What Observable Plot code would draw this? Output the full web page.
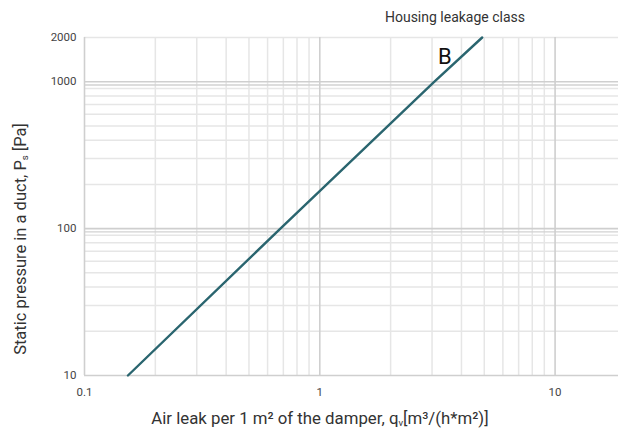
<!DOCTYPE html>
<html>
<head>
<meta charset="utf-8">
<script src="https://cdn.jsdelivr.net/npm/d3@7"></script>
<script src="https://cdn.jsdelivr.net/npm/@observablehq/plot@0.6"></script>
<style>
  html, body { margin: 0; padding: 0; background: #fff; }
  #chart svg { display: block; }
</style>
</head>
<body>
<div id="chart"></div>
<script>
// Data
const airLeak = [0.153, 0.68, 3.07, 4.9];      // q_v [m³/(h*m²)]
const pressure = [10, 100, 1000, 2000];        // P_s [Pa]
const seriesName = "B";
const seriesLabelPos = {x: 3.4, y: 1480};

const xTicks = [0.1, 1, 10];
const yTicks = [10, 100, 1000, 2000];
const xMajorGrid = [0.1, 1, 10];
const xMinorGrid = [0.2, 0.3, 0.4, 0.5, 0.6, 0.7, 0.8, 0.9, 2, 3, 4, 5, 6, 7, 8, 9];
const yMajorGrid = [10, 100, 1000];
const yDecadeCompanion = [95, 950];
const yMinorGrid = [20, 30, 40, 50, 60, 70, 80, 90, 200, 300, 400, 500, 600, 700, 800, 900, 2000];

const title = "Housing leakage class";
const xLabel = ["Air leak per 1 m² of the damper, q", "v", "[m³/(h*m²)]"];
const yLabel = ["Static pressure in a duct, P", "s", " [Pa]"];

const data = airLeak.map((q, i) => ({q, p: pressure[i]}));

const W = 618, H = 428;
const plot = Plot.plot({
  width: W,
  height: H,
  marginLeft: 84,
  marginRight: 0,
  marginTop: 37,
  marginBottom: 53,
  style: {fontFamily: "Roboto, 'DejaVu Sans', sans-serif", fontSize: "11.5px", color: "#444", background: "#fff"},
  x: {type: "log", domain: [0.1, 18.6]},
  y: {type: "log", domain: [10, 2000]},
  marks: [
    Plot.ruleX(xMinorGrid, {stroke: "#e6e6e6", strokeWidth: 1.5}),
    Plot.ruleY(yMinorGrid, {stroke: "#e6e6e6", strokeWidth: 1.5}),
    Plot.ruleY(yDecadeCompanion, {stroke: "#d2d2d2", strokeWidth: 1.4}),
    Plot.ruleY(yMajorGrid, {stroke: "#cfcfcf", strokeWidth: 1.6}),
    Plot.ruleX(xMajorGrid, {stroke: "#cfcfcf", strokeWidth: 1.6}),
    Plot.axisX({ticks: xTicks, tickFormat: d => String(d), tickSize: 0, tickPadding: 12, label: null, fill: "#444"}),
    Plot.axisY({ticks: yTicks, tickFormat: d => String(d), tickSize: 0, tickPadding: 8, label: null, fill: "#444"}),
    Plot.line(data, {x: "q", y: "p", stroke: "#2a656f", strokeWidth: 2.4}),
    Plot.text([seriesLabelPos], {x: "x", y: "y", text: () => seriesName, fontSize: 22, fill: "#111", textAnchor: "middle"})
  ]
});

const svg = d3.select(plot);
// Title
svg.append("text")
  .attr("x", 455).attr("y", 22)
  .attr("text-anchor", "middle")
  .attr("font-size", 14)
  .attr("fill", "#333")
  .text(title);
// X axis label
const xl = svg.append("text")
  .attr("x", 320).attr("y", 424)
  .attr("text-anchor", "middle")
  .attr("font-size", 16.8)
  .attr("fill", "#333");
xl.append("tspan").text(xLabel[0]);
xl.append("tspan").attr("font-size", 9.5).attr("dy", 2).text(xLabel[1]);
xl.append("tspan").attr("dy", -2).text(xLabel[2]);
// Y axis label
const yl = svg.append("text")
  .attr("transform", "translate(26,239) rotate(-90)")
  .attr("text-anchor", "middle")
  .attr("font-size", 16.5)
  .attr("fill", "#333");
yl.append("tspan").text(yLabel[0]);
yl.append("tspan").attr("font-size", 9.5).attr("dy", 2).text(yLabel[1]);
yl.append("tspan").attr("dy", -2).text(yLabel[2]);

document.getElementById("chart").appendChild(plot);
</script>
</body>
</html>
